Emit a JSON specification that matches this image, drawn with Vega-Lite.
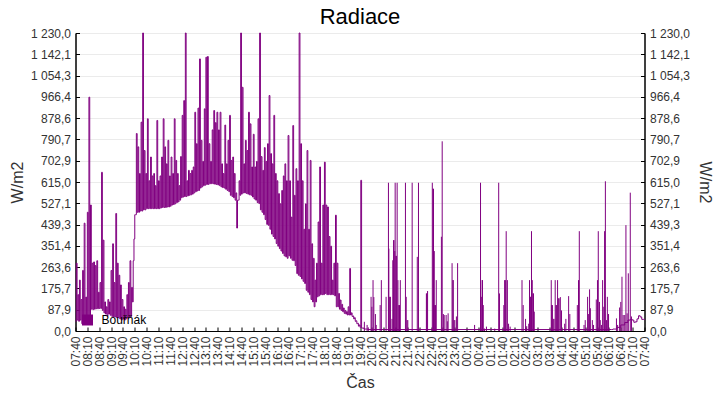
{
  "$schema": "https://vega.github.io/schema/vega-lite/v6.json",
  "width": 569,
  "height": 298,
  "autosize": {"type": "none"},
  "padding": {"left": 75.5, "top": 33, "right": 75.5, "bottom": 69},
  "background": "white",
  "title": {"text": "Radiace", "fontSize": 22, "font": "Liberation Sans", "fontWeight": "normal", "color": "#000", "offset": -2},
  "config": {
    "view": {"stroke": "#000", "strokeWidth": 1},
    "axis": {
      "labelFont": "Liberation Sans", "labelFontSize": 12, "labelColor": "#333",
      "titleFont": "Liberation Sans", "titleFontSize": 16, "titleFontWeight": "normal", "titleColor": "#333",
      "domainColor": "#000", "tickColor": "#000", "gridColor": "#ebebeb",
      "labelOverlap": false, "labelFlush": false, "labelBound": false
    }
  },
  "datasets": {
    "base": [
      {"m":0,"v":40},{"m":2,"v":280},{"m":4,"v":45},{"m":6,"v":150},{"m":8,"v":40},{"m":10,"v":210},{"m":12,"v":45},{"m":14,"v":130},{"m":16,"v":30},{"m":18,"v":250},
      {"m":20,"v":28},{"m":22,"v":445},{"m":24,"v":28},{"m":26,"v":140},{"m":28,"v":28},{"m":30,"v":490},{"m":32,"v":30},{"m":34,"v":965},{"m":36,"v":35},{"m":38,"v":520},
      {"m":40,"v":90},{"m":42,"v":280},{"m":44,"v":88},{"m":46,"v":285},{"m":48,"v":90},{"m":50,"v":270},{"m":52,"v":92},{"m":54,"v":290},{"m":56,"v":92},{"m":58,"v":160},
      {"m":60,"v":93},{"m":62,"v":200},{"m":64,"v":93},{"m":66,"v":655},{"m":68,"v":85},{"m":70,"v":375},{"m":72,"v":75},{"m":74,"v":120},{"m":76,"v":70},{"m":78,"v":100},
      {"m":80,"v":62},{"m":82,"v":130},{"m":84,"v":70},{"m":86,"v":120},{"m":88,"v":65},{"m":90,"v":250},{"m":92,"v":60},{"m":94,"v":360},{"m":96,"v":58},{"m":98,"v":200},
      {"m":100,"v":58},{"m":102,"v":485},{"m":104,"v":55},{"m":106,"v":280},{"m":108,"v":55},{"m":110,"v":230},{"m":112,"v":50},{"m":114,"v":190},{"m":116,"v":45},{"m":118,"v":130},
      {"m":120,"v":50},{"m":122,"v":100},{"m":124,"v":45},{"m":126,"v":90},{"m":128,"v":50},{"m":130,"v":150},{"m":132,"v":55},{"m":134,"v":200},{"m":136,"v":55},{"m":138,"v":290},
      {"m":140,"v":60},{"m":142,"v":180},{"m":144,"v":120},{"m":146,"v":290},{"m":148,"v":380},{"m":150,"v":480},{"m":152,"v":480},{"m":154,"v":815},{"m":156,"v":490},{"m":158,"v":760},
      {"m":160,"v":490},{"m":162,"v":650},{"m":164,"v":495},{"m":166,"v":862},{"m":168,"v":495},{"m":170,"v":1230},{"m":172,"v":500},{"m":174,"v":745},{"m":176,"v":500},{"m":178,"v":650},
      {"m":180,"v":505},{"m":182,"v":876},{"m":184,"v":505},{"m":186,"v":620},{"m":188,"v":505},{"m":190,"v":718},{"m":192,"v":505},{"m":194,"v":640},{"m":196,"v":505},{"m":198,"v":650},
      {"m":200,"v":505},{"m":202,"v":600},{"m":204,"v":505},{"m":206,"v":869},{"m":208,"v":505},{"m":210,"v":620},{"m":212,"v":505},{"m":214,"v":640},{"m":216,"v":508},{"m":218,"v":718},
      {"m":220,"v":510},{"m":222,"v":876},{"m":224,"v":510},{"m":226,"v":760},{"m":228,"v":510},{"m":230,"v":690},{"m":232,"v":512},{"m":234,"v":787},{"m":236,"v":512},{"m":238,"v":640},
      {"m":240,"v":515},{"m":242,"v":718},{"m":244,"v":520},{"m":246,"v":650},{"m":248,"v":522},{"m":250,"v":876},{"m":252,"v":525},{"m":254,"v":704},{"m":256,"v":530},{"m":258,"v":650},
      {"m":260,"v":533},{"m":262,"v":600},{"m":264,"v":540},{"m":266,"v":720},{"m":268,"v":550},{"m":270,"v":890},{"m":272,"v":553},{"m":274,"v":951},{"m":276,"v":555},{"m":278,"v":1230},
      {"m":280,"v":555},{"m":282,"v":620},{"m":284,"v":558},{"m":286,"v":663},{"m":288,"v":560},{"m":290,"v":650},{"m":292,"v":562},{"m":294,"v":663},{"m":296,"v":565},{"m":298,"v":677},
      {"m":300,"v":570},{"m":302,"v":903},{"m":304,"v":575},{"m":306,"v":773},{"m":308,"v":578},{"m":310,"v":920},{"m":312,"v":580},{"m":314,"v":1123},{"m":316,"v":590},{"m":318,"v":787},
      {"m":320,"v":595},{"m":322,"v":700},{"m":324,"v":600},{"m":326,"v":917},{"m":328,"v":602},{"m":330,"v":1130},{"m":332,"v":605},{"m":334,"v":1133},{"m":336,"v":605},{"m":338,"v":773},
      {"m":340,"v":608},{"m":342,"v":700},{"m":344,"v":608},{"m":346,"v":830},{"m":348,"v":608},{"m":350,"v":910},{"m":352,"v":606},{"m":354,"v":860},{"m":356,"v":605},{"m":358,"v":903},
      {"m":360,"v":603},{"m":362,"v":830},{"m":364,"v":600},{"m":366,"v":903},{"m":368,"v":595},{"m":370,"v":690},{"m":372,"v":592},{"m":374,"v":650},{"m":376,"v":590},{"m":378,"v":850},
      {"m":380,"v":585},{"m":382,"v":690},{"m":384,"v":580},{"m":386,"v":787},{"m":388,"v":575},{"m":390,"v":890},{"m":392,"v":560},{"m":394,"v":704},{"m":396,"v":555},{"m":398,"v":718},
      {"m":400,"v":550},{"m":402,"v":650},{"m":404,"v":540},{"m":406,"v":570},{"m":408,"v":425},{"m":410,"v":540},{"m":412,"v":540},{"m":414,"v":620},{"m":416,"v":560},{"m":418,"v":1230},
      {"m":420,"v":565},{"m":422,"v":1006},{"m":424,"v":570},{"m":426,"v":690},{"m":428,"v":570},{"m":430,"v":787},{"m":432,"v":568},{"m":434,"v":745},{"m":436,"v":565},{"m":438,"v":903},
      {"m":440,"v":562},{"m":442,"v":855},{"m":444,"v":560},{"m":446,"v":677},{"m":448,"v":553},{"m":450,"v":812},{"m":452,"v":545},{"m":454,"v":677},{"m":456,"v":540},{"m":458,"v":700},
      {"m":460,"v":530},{"m":462,"v":876},{"m":464,"v":526},{"m":466,"v":1230},{"m":468,"v":500},{"m":470,"v":720},{"m":472,"v":490},{"m":474,"v":663},{"m":476,"v":480},{"m":478,"v":757},
      {"m":480,"v":460},{"m":482,"v":700},{"m":484,"v":440},{"m":486,"v":773},{"m":488,"v":436},{"m":490,"v":972},{"m":492,"v":420},{"m":494,"v":732},{"m":496,"v":400},{"m":498,"v":690},
      {"m":500,"v":390},{"m":502,"v":890},{"m":504,"v":380},{"m":506,"v":650},{"m":508,"v":361},{"m":510,"v":620},{"m":512,"v":350},{"m":514,"v":567},{"m":516,"v":340},{"m":518,"v":525},
      {"m":520,"v":330},{"m":522,"v":580},{"m":524,"v":320},{"m":526,"v":640},{"m":528,"v":310},{"m":530,"v":690},{"m":532,"v":306},{"m":534,"v":620},{"m":536,"v":300},{"m":538,"v":807},
      {"m":540,"v":310},{"m":542,"v":620},{"m":544,"v":300},{"m":546,"v":470},{"m":548,"v":292},{"m":550,"v":848},{"m":552,"v":290},{"m":554,"v":560},{"m":556,"v":270},{"m":558,"v":670},
      {"m":560,"v":237},{"m":562,"v":620},{"m":564,"v":230},{"m":566,"v":1230},{"m":568,"v":225},{"m":570,"v":773},{"m":572,"v":215},{"m":574,"v":620},{"m":576,"v":205},{"m":578,"v":420},
      {"m":580,"v":196},{"m":582,"v":525},{"m":584,"v":168},{"m":586,"v":745},{"m":588,"v":160},{"m":590,"v":420},{"m":592,"v":150},{"m":594,"v":704},{"m":596,"v":130},{"m":598,"v":360},
      {"m":600,"v":120},{"m":602,"v":300},{"m":604,"v":100},{"m":606,"v":210},{"m":608,"v":120},{"m":610,"v":280},{"m":612,"v":141},{"m":614,"v":450},{"m":616,"v":145},{"m":618,"v":677},
      {"m":620,"v":150},{"m":622,"v":280},{"m":624,"v":150},{"m":626,"v":520},{"m":628,"v":150},{"m":630,"v":697},{"m":632,"v":155},{"m":634,"v":520},{"m":636,"v":150},{"m":638,"v":512},
      {"m":640,"v":150},{"m":642,"v":390},{"m":644,"v":150},{"m":646,"v":350},{"m":648,"v":150},{"m":650,"v":210},{"m":652,"v":150},{"m":654,"v":280},{"m":656,"v":145},{"m":658,"v":478},
      {"m":660,"v":100},{"m":662,"v":280},{"m":664,"v":100},{"m":666,"v":155},{"m":668,"v":90},{"m":670,"v":128},{"m":672,"v":85},{"m":674,"v":110},{"m":676,"v":80},{"m":678,"v":95},
      {"m":680,"v":73},{"m":682,"v":85},{"m":684,"v":70},{"m":686,"v":80},{"m":688,"v":66},{"m":690,"v":100},{"m":692,"v":66},{"m":694,"v":258},{"m":696,"v":66},{"m":698,"v":75},
      {"m":700,"v":60},{"m":702,"v":62},{"m":704,"v":50},{"m":706,"v":55},{"m":708,"v":40},{"m":710,"v":42},{"m":712,"v":30},{"m":714,"v":32},{"m":716,"v":20},{"m":718,"v":25},
      {"m":720,"v":15},{"m":722,"v":622},{"m":724,"v":12},{"m":730,"v":8},{"m":740,"v":6},{"m":1356,"v":6},{"m":1360,"v":8},{"m":1370,"v":15},{"m":1380,"v":25},{"m":1390,"v":35},
      {"m":1398,"v":45},{"m":1404,"v":48},{"m":1409,"v":45},{"m":1413,"v":36},{"m":1417,"v":38},{"m":1421,"v":50},{"m":1425,"v":63},{"m":1429,"v":58},{"m":1433,"v":48},{"m":1437,"v":48},{"m":1440,"v":50}
    ],
    "spikes": [
      {"m":731,"v":38},{"m":738,"v":25},{"m":741,"v":15},
      {"m":748,"v":141},{"m":750,"v":100},{"m":753,"v":210},{"m":755,"v":140},{"m":759,"v":70},{"m":761,"v":25},
      {"m":771,"v":107},{"m":774,"v":210},{"m":786,"v":141},
      {"m":792,"v":612},{"m":793,"v":340},{"m":795,"v":141},{"m":797,"v":141},
      {"m":801,"v":50},{"m":803,"v":292},{"m":805,"v":375},{"m":806,"v":375},{"m":808,"v":330},{"m":809,"v":612},{"m":811,"v":310},{"m":812,"v":310},{"m":814,"v":612},{"m":816,"v":210},{"m":818,"v":107},{"m":820,"v":107},{"m":822,"v":210},
      {"m":835,"v":612},{"m":837,"v":141},{"m":839,"v":45},{"m":841,"v":45},
      {"m":852,"v":612},{"m":865,"v":306},{"m":868,"v":612},
      {"m":888,"v":155},{"m":889,"v":155},{"m":891,"v":165},
      {"m":903,"v":612},{"m":905,"v":587},{"m":906,"v":587},{"m":908,"v":330},{"m":909,"v":107},{"m":911,"v":107},{"m":913,"v":210},
      {"m":926,"v":389},{"m":928,"v":783},{"m":931,"v":70},{"m":933,"v":66},
      {"m":938,"v":66},{"m":941,"v":40},{"m":943,"v":73},
      {"m":953,"v":280},{"m":955,"v":210},{"m":956,"v":210},{"m":958,"v":45},{"m":960,"v":45},{"m":964,"v":60},{"m":967,"v":280},
      {"m":1010,"v":25},
      {"m":1025,"v":612},{"m":1027,"v":141},{"m":1029,"v":210},{"m":1030,"v":210},{"m":1032,"v":107},{"m":1035,"v":10},{"m":1040,"v":18},{"m":1061,"v":10},
      {"m":1071,"v":612},{"m":1073,"v":155},
      {"m":1084,"v":107},{"m":1086,"v":210},{"m":1088,"v":210},{"m":1090,"v":412},{"m":1093,"v":210},{"m":1096,"v":30},{"m":1100,"v":18},
      {"m":1130,"v":210},{"m":1133,"v":107},{"m":1139,"v":50},{"m":1142,"v":20},{"m":1147,"v":30},
      {"m":1149,"v":210},{"m":1151,"v":141},{"m":1152,"v":141},{"m":1154,"v":412},{"m":1156,"v":210},{"m":1158,"v":155},{"m":1159,"v":155},{"m":1161,"v":80},
      {"m":1204,"v":210},{"m":1205,"v":107},{"m":1207,"v":107},{"m":1209,"v":50},{"m":1211,"v":50},{"m":1214,"v":210},{"m":1216,"v":107},{"m":1217,"v":107},{"m":1220,"v":210},{"m":1222,"v":135},{"m":1224,"v":135},{"m":1227,"v":140},{"m":1230,"v":85},
      {"m":1238,"v":30},{"m":1241,"v":50},{"m":1248,"v":144},{"m":1251,"v":70},
      {"m":1270,"v":107},{"m":1273,"v":210},{"m":1275,"v":412},
      {"m":1287,"v":25},{"m":1290,"v":45},
      {"m":1296,"v":141},{"m":1298,"v":70},{"m":1301,"v":172},{"m":1303,"v":94},{"m":1308,"v":45},{"m":1311,"v":25},
      {"m":1318,"v":130},{"m":1321,"v":210},{"m":1323,"v":412},{"m":1326,"v":120},{"m":1328,"v":45},{"m":1331,"v":25},{"m":1334,"v":210},{"m":1337,"v":100},{"m":1339,"v":412},{"m":1341,"v":618},{"m":1344,"v":45},{"m":1346,"v":141},{"m":1349,"v":70},
      {"m":1369,"v":52},{"m":1372,"v":25},{"m":1377,"v":97},{"m":1380,"v":120},{"m":1383,"v":224},{"m":1386,"v":66},{"m":1390,"v":66},{"m":1393,"v":437},{"m":1396,"v":73},{"m":1399,"v":238},{"m":1404,"v":571},{"m":1407,"v":60}
    ]
  },
  "layer": [
    {
      "data": {"name": "base"},
      "mark": {"type": "line", "strokeWidth": 1, "interpolate": "step-after"},
      "encoding": {
        "x": {
          "field": "m", "type": "quantitative",
          "scale": {"domain": [0, 1440], "nice": false, "zero": false},
          "axis": {
            "values": [0,30,60,90,120,150,180,210,240,270,300,330,360,390,420,450,480,510,540,570,600,630,660,690,720,750,780,810,840,870,900,930,960,990,1020,1050,1080,1110,1140,1170,1200,1230,1260,1290,1320,1350,1380,1410,1440],
            "tickCount": 60,
            "labelExpr": "utcFormat(datum.value * 60000 + 27600000, '%H:%M')",
            "labelAngle": 270, "labelOverlap": false, "labelFlush": false, "labelBound": false,
            "title": "Čas", "grid": false,
            "tickSize": -4, "labelPadding": 9, "titlePadding": 8
          }
        },
        "y": {
          "field": "v", "type": "quantitative",
          "scale": {"domain": [0, 1230], "nice": false},
          "axis": {
            "values": [0,87.857,175.714,263.571,351.429,439.286,527.143,615,702.857,790.714,878.571,966.429,1054.286,1142.143,1230],
            "tickCount": 20,
            "labelExpr": "replace(replace(format(datum.value, ',.1f'), ',', ' '), '.', ',')",
            "labelOverlap": false,
            "title": "W/m2", "grid": true, "tickSize": -4, "labelPadding": 9, "titlePadding": 5
          }
        },
        "color": {
          "datum": "Bouřňák",
          "scale": {"range": ["#800080"]},
          "legend": {
            "title": null, "orient": "none", "legendX": 6, "legendY": 281,
            "symbolType": "square", "symbolSize": 121, "symbolFillColor": "#800080", "symbolStrokeWidth": 0,
            "labelFont": "Liberation Sans", "labelFontSize": 12, "labelColor": "#000", "labelOffset": 8, "padding": 0
          }
        }
      }
    },
    {
      "data": {"name": "spikes"},
      "mark": {"type": "rule", "color": "#800080", "strokeWidth": 1},
      "encoding": {
        "x": {"field": "m", "type": "quantitative"},
        "y": {
          "field": "v", "type": "quantitative",
          "axis": {
            "orient": "right",
            "values": [0,87.857,175.714,263.571,351.429,439.286,527.143,615,702.857,790.714,878.571,966.429,1054.286,1142.143,1230],
            "tickCount": 20,
            "labelExpr": "replace(replace(format(datum.value, ',.1f'), ',', ' '), '.', ',')",
            "labelOverlap": false,
            "title": "W/m2", "grid": false, "tickSize": -4, "labelPadding": 9, "titlePadding": 7
          }
        },
        "y2": {"datum": 0}
      }
    }
  ],
  "resolve": {"axis": {"y": "independent"}}
}
